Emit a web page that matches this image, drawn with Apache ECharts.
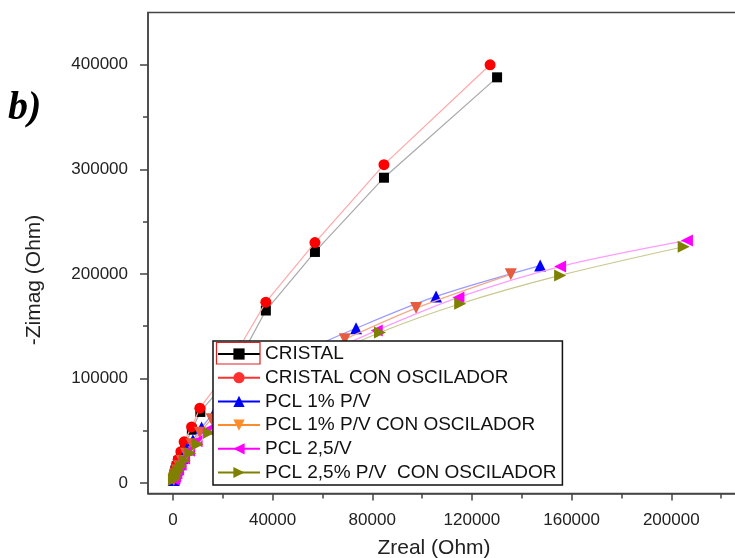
<!DOCTYPE html>
<html>
<head>
<meta charset="utf-8">
<script src="https://cdn.jsdelivr.net/npm/echarts@6/dist/echarts.min.js"></script>
<style>
html, body { margin: 0; padding: 0; background: #fff; }
#chart { width: 735px; height: 558px; }
</style>
</head>
<body>
<div id="chart"></div>
<script>
// values, [Zreal, -Zimag] in Ohm
var cristal = [[130100, 388000], [84700, 292000], [57000, 221000], [37300, 165000], [28000, 124000],
    [19500, 92000], [11000, 68000], [7600, 51000], [4900, 37000], [3300, 28000], [2200, 21000],
    [1500, 16000], [1000, 12000], [700, 9000], [500, 7000]];
var cristalOsc = [[127300, 400000], [84700, 304500], [57000, 230000], [37300, 173000], [27000, 131000],
    [18800, 97000], [10800, 71600], [7500, 53700], [4500, 39400], [3200, 30000], [2100, 22600],
    [1400, 17000], [950, 12800], [650, 9600], [450, 7200], [300, 5400], [200, 4000]];
var pcl1 = [[147400, 208000], [105600, 178500], [73500, 148000], [51000, 124000], [35000, 103000],
    [24000, 84000], [16500, 67000], [11500, 53000], [8000, 41000], [5500, 32000], [3800, 24000],
    [2600, 18000], [1800, 13000], [1200, 9500], [800, 6500], [500, 4500], [300, 3000]];
var pcl1Osc = [[135600, 199600], [97600, 167300], [69000, 137500], [48000, 113000], [33000, 93000],
    [23000, 76000], [15500, 61000], [10800, 48000], [7500, 37000], [5200, 28000], [3600, 21000],
    [2500, 16000], [1700, 12000], [1100, 8500], [700, 6000], [450, 4000], [300, 2800]];
var pcl25 = [[206300, 232000], [155400, 207000], [114600, 177500], [81800, 146000], [58000, 120000],
    [41000, 98000], [28500, 80000], [20000, 64000], [14000, 51000], [9500, 40000], [6500, 31000],
    [4500, 23500], [3100, 17500], [2100, 13000], [1400, 9500], [900, 6800], [600, 4800], [400, 3300]];
var pcl25Osc = [[205000, 226000], [155400, 198600], [115300, 171500], [83100, 144000], [59000, 118000],
    [42000, 96000], [29000, 77000], [20500, 61000], [14500, 48000], [10000, 37000], [7000, 28500],
    [4800, 21500], [3300, 16000], [2300, 12000], [1500, 9000], [1000, 6500], [650, 4600], [400, 3200]];

var seriesNames = ['CRISTAL', 'CRISTAL CON OSCILADOR', 'PCL 1% P/V', 'PCL 1% P/V CON OSCILADOR',
    'PCL 2,5/V', 'PCL 2,5% P/V  CON OSCILADOR'];

var xMajorTicks = [0, 40000, 80000, 120000, 160000, 200000];
var xMinorTicks = [20000, 60000, 100000, 140000, 180000, 220000];
var yMajorTicks = [0, 100000, 200000, 300000, 400000];
var yMinorTicks = [50000, 150000, 250000, 350000];

var chart = echarts.init(document.getElementById('chart'));

var font = 'Liberation Sans, Arial, sans-serif';

// marker colour, thin line colour, legend colour, symbol, rotation
var looks = [
    { c: '#000000', line: '#a8a8a8', leg: '#000000', sym: 'rect', rot: 0, size: 10 },
    { c: '#ff0000', line: '#ffa8a8', leg: '#ff3030', sym: 'circle', rot: 0, size: 11 },
    { c: '#0000ff', line: '#9a9aff', leg: '#0000ff', sym: 'triangle', rot: 0, size: 12 },
    { c: '#e65c3e', line: '#f4a888', leg: '#ff8c2a', sym: 'triangle', rot: 180, size: 12 },
    { c: '#ff00ff', line: '#ff9cff', leg: '#ff00ff', sym: 'triangle', rot: 90, size: 12 },
    { c: '#808000', line: '#c8c890', leg: '#808000', sym: 'triangle', rot: -90, size: 12 }
];
var datas = [cristal, cristalOsc, pcl1, pcl1Osc, pcl25, pcl25Osc];

var series = [];
var legendData = [];
seriesNames.forEach(function (name, i) {
    var lk = looks[i];
    series.push({
        name: name,
        type: 'line',
        data: datas[i],
        symbol: lk.sym,
        symbolSize: lk.size,
        symbolRotate: lk.rot,
        smooth: i > 1 ? 0.3 : false,
        itemStyle: { color: lk.c },
        lineStyle: { color: lk.line, width: 1.2 },
        z: 2 + i
    });
    legendData.push({
        name: name,
        itemStyle: { color: lk.leg },
        lineStyle: { color: lk.leg, width: 2 }
    });
});

function plain(v) { return String(v); }

var option = {
    backgroundColor: '#fff',
    animation: false,
    grid: {
        left: 148,
        top: 12.5,
        width: 598,
        height: 481,
        outerBoundsMode: 'none',
        containLabel: false,
        show: true,
        borderColor: '#444',
        borderWidth: 1.5,
        backgroundColor: 'transparent'
    },
    legend: {
        orient: 'vertical',
        left: 213,
        top: 341,
        data: legendData,
        itemWidth: 42,
        itemHeight: 14,
        itemGap: 4.7,
        padding: [3.5, 6, 3, 4],
        backgroundColor: '#fff',
        borderColor: '#111',
        borderWidth: 1.5,
        borderRadius: 0,
        selectedMode: false,
        textStyle: { fontFamily: font, fontSize: 19, color: '#111' },
        z: 20
    },
    xAxis: [{
        type: 'value',
        min: -10000,
        max: 230000,
        name: 'Zreal (Ohm)',
        nameLocation: 'middle',
        nameGap: 44,
        nameTextStyle: { fontFamily: font, fontSize: 21, color: '#222', padding: [0, 26, 0, 0] },
        splitLine: { show: false },
        axisLine: { onZero: false, lineStyle: { color: '#444', width: 1.5 } },
        axisTick: { customValues: xMajorTicks, length: 7, lineStyle: { color: '#444', width: 1.5 } },
        axisLabel: { customValues: xMajorTicks, formatter: plain, margin: 18, fontFamily: font, fontSize: 17, color: '#222' }
    }, {
        type: 'value',
        min: -10000,
        max: 230000,
        position: 'bottom',
        splitLine: { show: false },
        axisLine: { show: false, onZero: false },
        axisLabel: { show: false },
        axisTick: { customValues: xMinorTicks, length: 5, lineStyle: { color: '#444', width: 1.5 } }
    }],
    yAxis: [{
        type: 'value',
        min: -10000,
        max: 450000,
        name: '-Zimag (Ohm)',
        nameLocation: 'middle',
        nameGap: 103,
        nameTextStyle: { fontFamily: font, fontSize: 21, color: '#222', padding: [0, 54, 0, 0] },
        splitLine: { show: false },
        axisLine: { onZero: false, lineStyle: { color: '#444', width: 1.5 } },
        axisTick: { customValues: yMajorTicks, length: 8, lineStyle: { color: '#444', width: 1.5 } },
        axisLabel: { customValues: yMajorTicks, formatter: plain, margin: 20, fontFamily: font, fontSize: 17, color: '#222' }
    }, {
        type: 'value',
        min: -10000,
        max: 450000,
        position: 'left',
        splitLine: { show: false },
        axisLine: { show: false, onZero: false },
        axisLabel: { show: false },
        axisTick: { customValues: yMinorTicks, length: 5, lineStyle: { color: '#444', width: 1.5 } }
    }],
    graphic: [{
        type: 'text',
        left: 8,
        top: 89,
        style: {
            text: 'b)',
            font: 'italic bold 40px "Liberation Serif", "Times New Roman", serif',
            fill: '#000'
        }
    }, {
        type: 'rect',
        shape: { x: 216.5, y: 342.5, width: 43.5, height: 21.5 },
        style: { fill: 'none', stroke: '#e02020', lineWidth: 1.2 },
        z: 100
    }],
    series: series
};
chart.setOption(option);
</script>
</body>
</html>
